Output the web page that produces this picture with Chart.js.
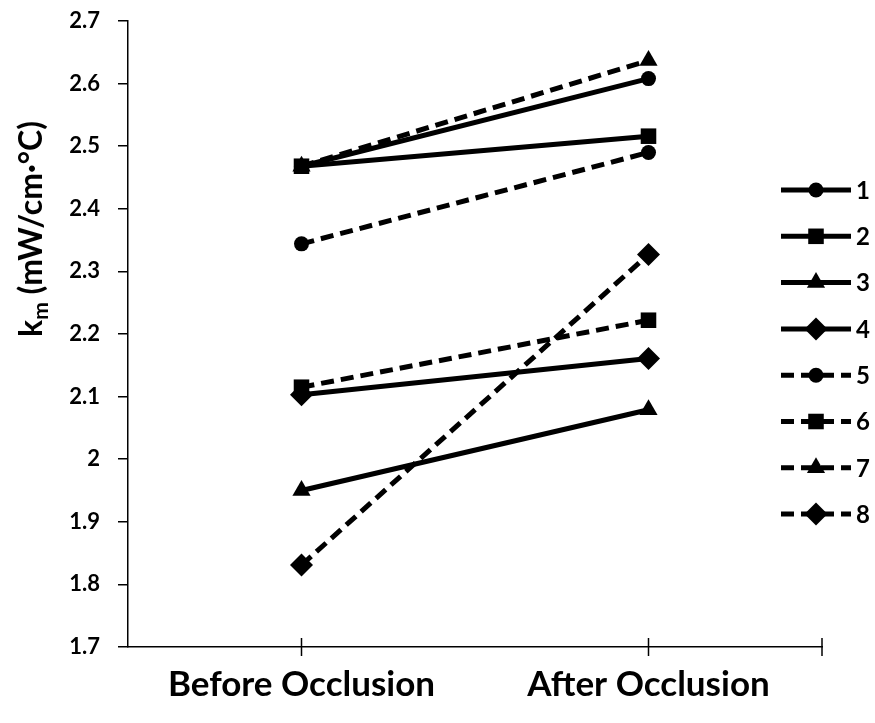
<!DOCTYPE html>
<html>
<head>
<meta charset="utf-8">
<script src="https://cdn.jsdelivr.net/npm/chart.js@4.4.0/dist/chart.umd.min.js"></script>
<style>
    html, body { margin: 0; padding: 0; background: #ffffff; }
</style>
</head>
<body>
<canvas id="chart" width="875" height="723"></canvas>
<script>
// Datos
var categories = ['Before Occlusion', 'After Occlusion'];
var seriesNames = ['1', '2', '3', '4', '5', '6', '7', '8'];
var series1 = [2.468, 2.608];
var series2 = [2.468, 2.516];
var series3 = [1.950, 2.079];
var series4 = [2.103, 2.161];
var series5 = [2.344, 2.490];
var series6 = [2.115, 2.222];
var series7 = [2.468, 2.637];
var series8 = [1.831, 2.327];
var yTicks = [1.7, 1.8, 1.9, 2.0, 2.1, 2.2, 2.3, 2.4, 2.5, 2.6, 2.7];

var FONT = 'Lato, "Open Sans", "Liberation Sans", sans-serif';
var allSeries = [series1, series2, series3, series4, series5, series6, series7, series8];
var markers = ['circle', 'rect', 'triangle', 'rectRot', 'circle', 'rect', 'triangle', 'rectRot'];
var markerSize = { circle: 7.5, rect: 11, triangle: 10.5, rectRot: 11.5 };

/**
 * Dibuja un marcador en (x, y)
 */
function drawMarker(ctx, style, x, y, r) {
    ctx.beginPath();
    if (style === 'circle') {
        ctx.arc(x, y, r, 0, Math.PI * 2);
    } else if (style === 'rect') {
        var s = r * Math.SQRT1_2;
        ctx.rect(x - s, y - s, 2 * s, 2 * s);
    } else if (style === 'triangle') {
        ctx.moveTo(x, y - r);
        ctx.lineTo(x + r * 0.866, y + r * 0.5);
        ctx.lineTo(x - r * 0.866, y + r * 0.5);
        ctx.closePath();
    } else {
        ctx.moveTo(x, y - r);
        ctx.lineTo(x + r, y);
        ctx.lineTo(x, y + r);
        ctx.lineTo(x - r, y);
        ctx.closePath();
    }
    ctx.fill();
}

// Marcas del eje X que cruzan la línea del eje
var xTickPlugin = {
    id: 'xTicks',
    afterDraw: function(chart) {
        var ctx = chart.ctx;
        var area = chart.chartArea;
        var xs = chart.scales.x;
        var pos = [];
        categories.forEach(function(c, i) { pos.push(xs.getPixelForValue(i)); });
        pos.push(area.right);
        ctx.save();
        ctx.strokeStyle = '#000';
        ctx.lineWidth = 1.5;
        pos.forEach(function(px) {
            ctx.beginPath();
            ctx.moveTo(px, area.bottom - 9);
            ctx.lineTo(px, area.bottom + 9);
            ctx.stroke();
        });
        ctx.restore();
    }
};

// Leyenda con línea y marcador
var legendPlugin = {
    id: 'lineLegend',
    afterDraw: function(chart) {
        var ctx = chart.ctx;
        ctx.save();
        chart.data.datasets.forEach(function(ds, i) {
            var y = 190 + i * 46.3;
            ctx.strokeStyle = '#000';
            ctx.lineWidth = 5;
            ctx.setLineDash(ds.borderDash || []);
            ctx.beginPath();
            ctx.moveTo(781, y);
            ctx.lineTo(851, y);
            ctx.stroke();
            ctx.setLineDash([]);
            ctx.fillStyle = '#000';
            drawMarker(ctx, ds.pointStyle, 816, y, ds.pointRadius);
            ctx.font = 'bold 24px ' + FONT;
            ctx.textAlign = 'left';
            ctx.textBaseline = 'middle';
            ctx.fillText(ds.label, 856, y + 1);
        });
        ctx.restore();
    }
};

// Título del eje Y con subíndice
var yTitlePlugin = {
    id: 'yTitle',
    afterDraw: function(chart) {
        var ctx = chart.ctx;
        ctx.save();
        ctx.translate(42, 229);
        ctx.rotate(-Math.PI / 2);
        ctx.fillStyle = '#000';
        ctx.textBaseline = 'alphabetic';
        var big = 'bold 32px ' + FONT;
        var small = 'bold 21px ' + FONT;
        ctx.font = big;
        var wk = ctx.measureText('k').width;
        var rest = ' (mW/cm\u00B7\u00B0C)';
        var wr = ctx.measureText(rest).width;
        ctx.font = small;
        var wm = ctx.measureText('m').width;
        var x0 = -(wk + wm + wr) / 2;
        ctx.font = big;
        ctx.fillText('k', x0, 0);
        ctx.font = small;
        ctx.fillText('m', x0 + wk, 6);
        ctx.font = big;
        ctx.fillText(rest, x0 + wk + wm, 0);
        ctx.restore();
    }
};

var datasets = allSeries.map(function(values, i) {
    return {
        label: seriesNames[i],
        data: values,
        borderColor: '#000',
        backgroundColor: '#000',
        borderWidth: 5,
        borderDash: i >= 4 ? [13, 7] : [],
        pointStyle: markers[i],
        pointRadius: markerSize[markers[i]],
        pointBackgroundColor: '#000',
        pointBorderColor: '#000',
        pointBorderWidth: 0,
        tension: 0,
        fill: false
    };
});

var ctx = document.getElementById('chart');
var chart = new Chart(ctx, {
    type: 'line',
    data: { labels: categories, datasets: datasets },
    options: {
        responsive: false,
        animation: false,
        layout: { padding: { left: 10, right: 53, top: 21, bottom: 0 } },
        plugins: {
            legend: { display: false },
            tooltip: { enabled: false }
        },
        scales: {
            x: {
                type: 'category',
                offset: true,
                grid: { display: false, drawTicks: false },
                border: { display: true, color: '#000', width: 1.5 },
                ticks: {
                    color: '#000',
                    padding: 17,
                    maxRotation: 0,
                    font: { family: FONT, size: 35, weight: 'bold' }
                },
                afterFit: function(scale) { scale.height = 76; }
            },
            y: {
                min: 1.7,
                max: 2.7,
                grid: { drawOnChartArea: false, color: '#000', lineWidth: 1.5, tickLength: 10 },
                border: { display: true, color: '#000', width: 1.5 },
                afterBuildTicks: function(scale) {
                    scale.ticks = yTicks.map(function(v) { return { value: v }; });
                },
                ticks: {
                    color: '#000',
                    padding: 18,
                    font: { family: FONT, size: 22, weight: 'bold' },
                    callback: function(v) { return String(+Number(v).toFixed(1)); }
                },
                afterFit: function(scale) {
                    scale.width = 118;
                    scale.paddingTop = 0;
                    scale.paddingBottom = 0;
                }
            }
        }
    },
    plugins: [xTickPlugin, legendPlugin, yTitlePlugin]
});
</script>
</body>
</html>
